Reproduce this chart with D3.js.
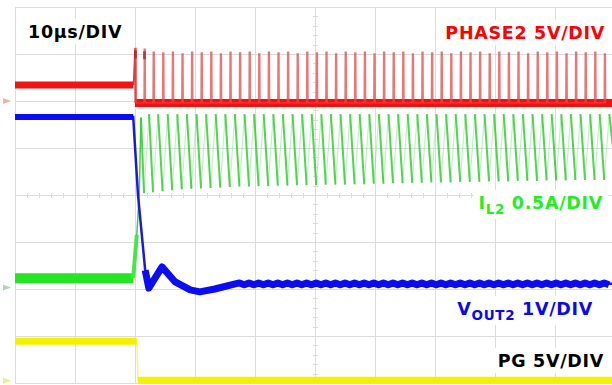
<!DOCTYPE html>
<html>
<head>
<meta charset="utf-8">
<script src="https://cdn.jsdelivr.net/npm/d3@7"></script>
<style>
  body { margin: 0; background: #fff; }
  .label { font-family: "DejaVu Sans", Verdana, sans-serif; font-weight: bold; font-size: 17.5px; letter-spacing: 0.7px; }
</style>
</head>
<body>
<div id="chart"></div>
<script>
// time in µs (trigger = 0), level in screen divisions (0 = centre line)
const timeTicks = [-20, -10, 0, 10, 20, 30, 40, 50, 60, 70];
const divTicks = [-4, -3, -2, -1, 0, 1, 2, 3, 4];

// PHASE2 (red)
const phasePre = [[-20, 2.34], [-0.25, 2.34]];
const phaseBase = 1.96;
const pulseTimes = [0.0, 1.5, 3.0, 4.6, 6.2, 7.8, 9.4, 11.0, 12.6, 14.2, 15.8, 17.4, 19.0, 20.6, 22.2, 23.8, 25.4,
  27.0, 28.6, 30.2, 31.8, 33.4, 35.0, 36.6, 38.2, 39.8, 41.4, 43.0, 44.6, 46.2, 47.8, 49.4, 51.0, 52.6, 54.2,
  55.8, 57.4, 59.0, 60.6, 62.2, 63.8, 65.4, 67.0, 68.6, 70.2, 71.8, 73.4, 75.0, 76.6, 78.2];
const phaseTops = [3.12, 3.1, 3.04, 3.02, 3.04, 3.0, 3.04, 3.02, 3.04, 3.0, 3.04, 3.02, 3.04, 3.0, 3.04, 3.02, 3.04,
  3.0, 3.04, 3.02, 3.04, 3.0, 3.04, 3.02, 3.04, 3.0, 3.04, 3.02, 3.04, 3.0, 3.04, 3.02, 3.04, 3.0, 3.04,
  3.02, 3.04, 3.0, 3.04, 3.02, 3.04, 3.0, 3.04, 3.02, 3.04, 3.0, 3.04, 3.02, 3.04, 3.0];

// IL2 (green)
const ilPre = [[-20, -1.77], [-0.3, -1.77]];
const ilRise = [[-0.3, -1.77], [0.3, -0.85], [0.7, 0.0], [1.0, 1.65]];
const ilPeak = 1.72;
const ilValley = [0.02, 0.04, 0.06, 0.08, 0.1, 0.12, 0.13, 0.14, 0.15, 0.16, 0.17, 0.18, 0.18, 0.19, 0.19, 0.2, 0.2,
  0.21, 0.21, 0.21, 0.22, 0.22, 0.22, 0.23, 0.23, 0.24, 0.24, 0.25, 0.25, 0.26, 0.26, 0.27, 0.27, 0.27, 0.28,
  0.28, 0.28, 0.29, 0.29, 0.29, 0.3, 0.3, 0.3, 0.31, 0.31, 0.31, 0.32, 0.32, 0.32, 0.32];
const ilRiseTime = 0.85;

// VOUT2 (blue)
const voutTrace = [[-20, 1.66], [-0.3, 1.66], [0.5, 0.0], [1.7, -1.6], [2.3, -1.98], [4.5, -1.53], [6.7, -1.85],
  [9.2, -2.02], [10.8, -2.06], [13.3, -2.0], [16.7, -1.89], [80, -1.89]];
const voutRipple = 0.02;

// PG (yellow)
const pgTrace = [[-20, -3.11], [0.3, -3.11], [0.5, -3.94], [80, -3.94]];

// ground markers at left edge
const markers = [{level: 2.0, color: "#e08060"}, {level: -1.97, color: "#70c870"}, {level: -3.95, color: "#e8e040"}];

// Step 1: Set up dimensions
const width = 612, height = 385;

const svg = d3.select("#chart")
  .append("svg")
  .attr("width", width)
  .attr("height", height)
  .style("display", "block");

svg.append("rect").attr("width", width).attr("height", height).attr("fill", "#fff");

// Step 2: Scales (10 µs per division, 8 vertical divisions)
const x = d3.scaleLinear().domain([-20, 80]).range([15, 615]);
const y = d3.scaleLinear().domain([-4, 4]).range([383, 7]);

// Step 3: Graticule
const grid = svg.append("g").attr("stroke", "#dcdcdc").attr("stroke-width", 1);
grid.selectAll(".vl").data(timeTicks).enter().append("line")
  .attr("x1", d => Math.round(x(d)) + 0.5).attr("x2", d => Math.round(x(d)) + 0.5)
  .attr("y1", y(4)).attr("y2", y(-4));
grid.selectAll(".hl").data(divTicks).enter().append("line")
  .attr("x1", x(-20)).attr("x2", width)
  .attr("y1", d => Math.round(y(d)) + 0.5).attr("y2", d => Math.round(y(d)) + 0.5);

// minor ticks on the centre lines
const minorT = d3.range(-20, 80.01, 2);
const minorD = d3.range(-4, 4.01, 0.2);
grid.selectAll(".mt").data(minorT).enter().append("line")
  .attr("x1", d => Math.round(x(d)) + 0.5).attr("x2", d => Math.round(x(d)) + 0.5)
  .attr("y1", y(0) - 2).attr("y2", y(0) + 3);
grid.selectAll(".md").data(minorD).enter().append("line")
  .attr("y1", d => Math.round(y(d)) + 0.5).attr("y2", d => Math.round(y(d)) + 0.5)
  .attr("x1", x(30) - 2).attr("x2", x(30) + 3);

const line = d3.line().x(d => x(d[0])).y(d => y(d[1]));

// Step 4: IL2 trace
svg.append("path").datum(ilPre).attr("d", line)
  .attr("fill", "none").attr("stroke", "#22e622").attr("stroke-width", 10);
svg.append("path").datum(ilRise.slice(0, 2)).attr("d", line)
  .attr("fill", "none").attr("stroke", "#44e844").attr("stroke-width", 4);
svg.append("path").datum(ilRise.slice(1)).attr("d", line)
  .attr("fill", "none").attr("stroke", "#40d040").attr("stroke-width", 1.5);

// rising (faint) and falling (bold) ramps of the inductor current
const ilUp = [], ilDown = [[ilRise[3], [pulseTimes[1], ilValley[1]]]];
pulseTimes.forEach((t, i) => {
  if (i === 0) return;
  const top = [t + ilRiseTime, ilPeak];
  ilUp.push([[t, ilValley[i]], top]);
  const next = i + 1 < pulseTimes.length ? [pulseTimes[i + 1], ilValley[i + 1]] : [80, ilValley[i] + 0.3];
  ilDown.push([top, next]);
});
svg.selectAll(".ilup").data(ilUp).enter().append("path")
  .attr("d", line).attr("fill", "none")
  .attr("stroke", "#7ae07a").attr("stroke-width", 1.2).attr("stroke-opacity", 0.45);
svg.selectAll(".ildn").data(ilDown).enter().append("path")
  .attr("d", line).attr("fill", "none")
  .attr("stroke", "#2ed02e").attr("stroke-width", 2).attr("stroke-opacity", 0.85);

// Step 5: PHASE2 trace
svg.append("path").datum(phasePre).attr("d", line)
  .attr("fill", "none").attr("stroke", "#f01414").attr("stroke-width", 7);
svg.append("path").datum([[-0.25, 2.34], [0, phaseTops[0]], [0.1, phaseBase]]).attr("d", line)
  .attr("fill", "none").attr("stroke", "#e83030").attr("stroke-width", 1.5);
svg.append("path").datum([[0, phaseBase], [80, phaseBase]]).attr("d", line)
  .attr("fill", "none").attr("stroke", "#f51010").attr("stroke-width", 8);
const spikes = [];
pulseTimes.forEach((t, i) => {
  spikes.push([t, phaseBase], [t + 0.04, phaseTops[i]], [t + 0.2, phaseTops[i]], [t + 0.24, phaseBase]);
});
svg.append("path").datum(spikes).attr("d", line)
  .attr("fill", "none").attr("stroke", "#e54545").attr("stroke-width", 1.4).attr("stroke-opacity", 0.75);
// dark blobs on the first spikes
svg.selectAll(".blob").data(pulseTimes.slice(0, 2)).enter().append("rect")
  .attr("x", d => x(d) - 1).attr("y", (d, i) => y(phaseTops[i]) + 2)
  .attr("width", 3).attr("height", 8).attr("fill", "#b02020").attr("opacity", 0.7);

// Step 6: VOUT2 trace
svg.append("path").datum(voutTrace).attr("d", line)
  .attr("fill", "none").attr("stroke", "#1a1ad8").attr("stroke-width", 2.5);
svg.append("path").datum(voutTrace.slice(0, 2)).attr("d", line)
  .attr("fill", "none").attr("stroke", "#0c0cf0").attr("stroke-width", 6);
const voutPost = voutTrace.slice(3, voutTrace.length - 1);
pulseTimes.filter(t => t > 17).forEach(t => {
  voutPost.push([t, -1.89 + voutRipple]);
  voutPost.push([t + 0.8, -1.89 - voutRipple]);
});
svg.append("path").datum(voutPost).attr("d", line)
  .attr("fill", "none").attr("stroke", "#0c0cf0").attr("stroke-width", 7).attr("stroke-linejoin", "round");

// Step 7: PG trace
svg.append("path").datum(pgTrace).attr("d", line)
  .attr("fill", "none").attr("stroke", "#f0f000").attr("stroke-width", 1.5).attr("stroke-opacity", 0.5);
svg.append("path").datum(pgTrace.slice(0, 2)).attr("d", line)
  .attr("fill", "none").attr("stroke", "#f2f200").attr("stroke-width", 7);
svg.append("path").datum(pgTrace.slice(2)).attr("d", line)
  .attr("fill", "none").attr("stroke", "#f2f200").attr("stroke-width", 7);

// Step 8: ground markers
svg.selectAll(".mk").data(markers).enter().append("path")
  .attr("d", d => `M3,${y(d.level) - 3} L11,${y(d.level)} L3,${y(d.level) + 3} Z`)
  .attr("fill", d => d.color).attr("opacity", 0.6);

// Step 9: labels with white boxes
const labels = [
  {parts: [["10µs/DIV"]], x: 28, y: 38, anchor: "start", color: "#000"},
  {parts: [["PHASE2 5V/DIV"]], x: 605, y: 39, anchor: "end", color: "#ff0000"},
  {parts: [["I"], ["L2", "sub"], [" 0.5A/DIV"]], x: 603, y: 209, anchor: "end", color: "#22ee22"},
  {parts: [["V"], ["OUT2", "sub"], [" 1V/DIV"]], x: 593, y: 315, anchor: "end", color: "#0a0aee"},
  {parts: [["PG 5V/DIV"]], x: 604, y: 367, anchor: "end", color: "#000"}
];
labels.forEach(l => {
  const g = svg.append("g");
  const bg = g.append("rect").attr("fill", "#fff");
  const t = g.append("text").attr("class", "label")
    .attr("x", l.x).attr("y", l.y).attr("text-anchor", l.anchor).attr("fill", l.color);
  l.parts.forEach((p, i) => {
    const ts = t.append("tspan").text(p[0]);
    if (p[1] === "sub") ts.attr("font-size", "13.5px").attr("dy", 5);
    else if (i > 0 && l.parts[i - 1][1] === "sub") ts.attr("dy", -5);
  });
  const b = t.node().getBBox();
  bg.attr("x", b.x - 5).attr("y", b.y - 3).attr("width", b.width + 10).attr("height", b.height + 5);
});
</script>
</body>
</html>
